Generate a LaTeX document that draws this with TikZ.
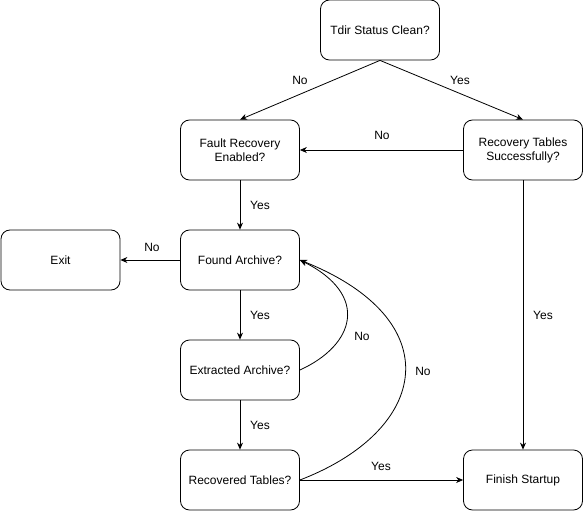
\documentclass[tikz,border=0pt]{standalone}
\usepackage{fontspec}
\setmainfont{Liberation Sans}
\usetikzlibrary{arrows.meta}
\begin{document}
\begin{tikzpicture}[x=1pt,y=-1pt]
        \tikzstyle{every node}=[font=\fontsize{12}{14}\selectfont];
        \tikzstyle{box}=[draw,rounded corners=9pt,minimum width=119pt,minimum height=60pt,align=center,inner sep=0pt,line width=0.8pt];
        \tikzstyle{arr}=[-{Stealth[length=7pt,width=6pt]},line width=0.8pt];
        \useasboundingbox (0,0) rectangle (584,511);

        \node[box](tdir) at (380,30) {Tdir Status Clean?};
        \node[box](fault) at (240,150) {Fault Recovery\\Enabled?};
        \node[box](tables) at (523,150) {Recovery Tables\\Successfully?};
        \node[box](exit) at (60.5,260) {Exit};
        \node[box](found) at (240,260) {Found Archive?};
        \node[box](extract) at (240,370) {Extracted Archive?};
        \node[box](recover) at (240,480) {Recovered Tables?};
        \node[box](finish) at (523,480) {Finish Startup};

        \path[arr]
          (tdir.south) edge (fault.north)
          (tdir.south) edge (tables.north)
          (tables.west) edge (fault.east)
          (fault.south) edge (found.north)
          (found.west) edge (exit.east)
          (found.south) edge (extract.north)
          (extract.south) edge (recover.north)
          (recover.east) edge (finish.west)
          (tables.south) edge (finish.north);
        \draw[arr] (extract.east) .. controls (355,345) and (370,295) .. (found.east);
        \draw[arr] (recover.east) .. controls (430,430) and (450,320) .. (found.east);

        % edge labels
        \foreach \n/\x/\y/\t in {l1/300/80/No,l2/460/80/Yes,l3/382/135/No,
            l4/260/205/Yes,l5/152/247/No,l6/260/315/Yes,l7/362/336/No,
            l8/260/425/Yes,l9/423/371/No,l10/381/466/Yes,l11/543/315/Yes}{
          \node(\n) at (\x,\y) {\t};
        }
      \end{tikzpicture}
\end{document}
